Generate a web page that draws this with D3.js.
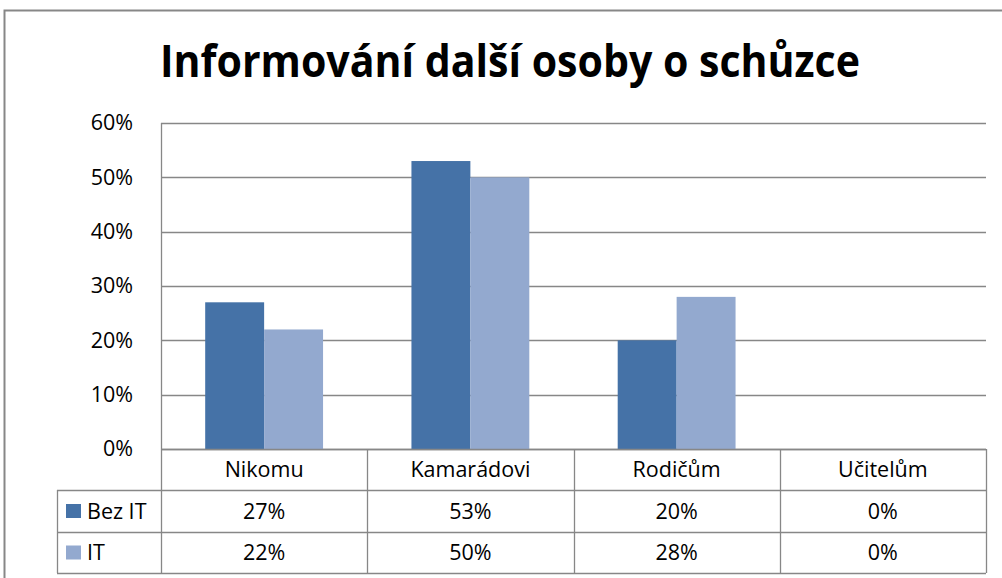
<!DOCTYPE html>
<html>
<head>
<meta charset="utf-8">
<script src="https://cdn.jsdelivr.net/npm/d3@7"></script>
<style>
  body { margin: 0; background: #fff; }
  svg { display: block; font-family: "Open Sans", "Liberation Sans", sans-serif; }
</style>
</head>
<body>
<div id="chart"></div>
<script>
// chart data
const title = 'Informování další osoby o schůzce';
const categories = ['Nikomu', 'Kamarádovi', 'Rodičům', 'Učitelům'];
const seriesNames = ['Bez IT', 'IT'];
const bezIT = [0.27, 0.53, 0.20, 0.00];
const it = [0.22, 0.50, 0.28, 0.00];
const yTicks = [0, 0.1, 0.2, 0.3, 0.4, 0.5, 0.6];

const seriesValues = [bezIT, it];
const colors = ['#4572a7', '#93a9cf'];
const lineColor = '#878787';
const labelSize = '21.5px';

const width = 1002, height = 578;
const plot = { left: 161, right: 986, top: 123, bottom: 449 };
const rowH = [41, 42, 41];

const svg = d3.select('#chart').append('svg')
  .attr('width', width)
  .attr('height', height);

// outer frame
svg.append('path')
  .attr('d', `M4.5,${height} V10.5 H${width}`)
  .attr('fill', 'none')
  .attr('stroke', lineColor)
  .attr('stroke-width', 2);

// title
const t = svg.append('text')
  .attr('x', 510)
  .attr('y', 77)
  .attr('text-anchor', 'middle')
  .style('font-size', '44px')
  .style('font-weight', 'bold')
  .attr('fill', '#000')
  .text(title);
// squeeze to the reference width
const tw = t.node().getComputedTextLength();
if (tw > 700) t.attr('textLength', 700).attr('lengthAdjust', 'spacingAndGlyphs');

// scales
const x = d3.scaleBand()
  .domain(categories)
  .range([plot.left, plot.right])
  .paddingInner(0);
const x1 = d3.scaleBand()
  .domain(seriesNames)
  .range([0, x.bandwidth()])
  .paddingInner(0)
  .paddingOuter(0.75);
const y = d3.scaleLinear()
  .domain([0, 0.6])
  .range([plot.bottom, plot.top]);

// gridlines
svg.append('g').selectAll('line').data(yTicks).enter()
  .append('line')
  .attr('x1', plot.left)
  .attr('x2', plot.right)
  .attr('y1', d => Math.round(y(d)) + 0.5)
  .attr('y2', d => Math.round(y(d)) + 0.5)
  .attr('stroke', lineColor)
  .attr('stroke-width', 1.3);

// y axis labels
const yAxis = g => g
  .attr('transform', `translate(${plot.left},0)`)
  .call(d3.axisLeft(y).tickValues(yTicks).tickFormat(d3.format('.0%')).tickSize(0).tickPadding(28))
  .call(g => g.select('.domain').remove());
svg.append('g')
  .call(yAxis)
  .call(g => g.selectAll('text')
    .style('font-size', labelSize)
    .style('font-family', '"Open Sans", sans-serif')
    .attr('fill', '#000'));

// bars
const groups = svg.append('g').selectAll('.group').data(categories).enter()
  .append('g')
  .attr('transform', d => `translate(${x(d)},0)`);
groups.selectAll('rect')
  .data((c, i) => seriesNames.map((s, j) => ({ s, v: seriesValues[j][i], j })))
  .enter().append('rect')
  .attr('x', d => x1(d.s))
  .attr('width', x1.bandwidth())
  .attr('y', d => y(d.v))
  .attr('height', d => y(0) - y(d.v))
  .attr('fill', d => colors[d.j]);

// data table
const tableTop = plot.bottom;
const rowY = [tableTop, tableTop + rowH[0], tableTop + rowH[0] + rowH[1], tableTop + rowH[0] + rowH[1] + rowH[2]];
const tableLeft = 57;
const tbl = svg.append('g')
  .attr('stroke', lineColor)
  .attr('stroke-width', 1.3)
  .attr('fill', 'none');

// horizontal lines
tbl.append('line').attr('x1', plot.left).attr('x2', plot.right).attr('y1', rowY[0] + 0.5).attr('y2', rowY[0] + 0.5);
rowY.slice(1).forEach(ry => {
  tbl.append('line').attr('x1', tableLeft).attr('x2', plot.right).attr('y1', ry + 0.5).attr('y2', ry + 0.5);
});
// vertical lines
const colEdges = categories.map(c => x(c)).concat([plot.right]);
colEdges.forEach(cx => {
  tbl.append('line')
    .attr('x1', Math.round(cx) + 0.5).attr('x2', Math.round(cx) + 0.5)
    .attr('y1', cx === plot.left ? plot.top : rowY[0])
    .attr('y2', rowY[3]);
});
tbl.append('line')
  .attr('x1', tableLeft + 0.5).attr('x2', tableLeft + 0.5)
  .attr('y1', rowY[1]).attr('y2', rowY[3]);

// header labels
svg.append('g').selectAll('text').data(categories).enter()
  .append('text')
  .attr('x', d => x(d) + x.bandwidth() / 2)
  .attr('y', (rowY[0] + rowY[1]) / 2)
  .attr('dy', '0.35em')
  .attr('text-anchor', 'middle')
  .style('font-size', labelSize)
  .attr('fill', '#000')
  .text(d => d);

// series rows
seriesNames.forEach((s, j) => {
  const cy = (rowY[j + 1] + rowY[j + 2]) / 2;
  svg.append('rect')
    .attr('x', 66)
    .attr('y', cy - 7)
    .attr('width', 15)
    .attr('height', 14)
    .attr('fill', colors[j]);
  svg.append('text')
    .attr('x', 87)
    .attr('y', cy)
    .attr('dy', '0.35em')
    .style('font-size', labelSize)
    .attr('fill', '#000')
    .text(s);
  svg.append('g').selectAll('text').data(categories).enter()
    .append('text')
    .attr('x', d => x(d) + x.bandwidth() / 2)
    .attr('y', cy)
    .attr('dy', '0.35em')
    .attr('text-anchor', 'middle')
    .style('font-size', labelSize)
    .attr('fill', '#000')
    .text((d, i) => d3.format('.0%')(seriesValues[j][i]));
});
</script>
</body>
</html>
